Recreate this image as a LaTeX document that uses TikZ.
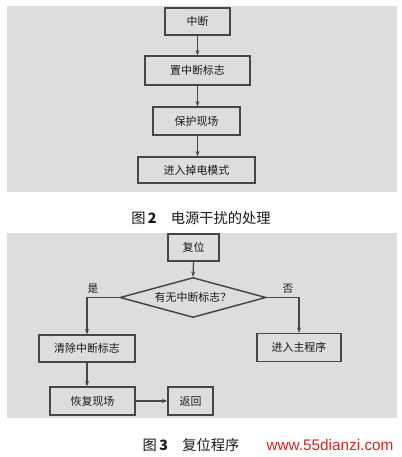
\documentclass[tikz,border=0pt]{standalone}
\usepackage{fontspec}
\newfontfamily\cjk{Noto Sans CJK SC}
\setmainfont{Liberation Serif}
\usetikzlibrary{shapes.geometric,arrows.meta}
\newdimen\px \px=0.75pt
\definecolor{bgc}{RGB}{221,221,219}
\definecolor{edge}{RGB}{70,70,70}
\definecolor{wm}{RGB}{200,40,40}
\tikzset{
  box/.style={draw=edge, line width=1.1pt, fill=bgc, inner sep=0pt,
    font=\cjk\fontsize{8.2}{10}\selectfont, text=black!90},
  dec/.style={box, diamond, aspect=3.6},
  arr/.style={draw=edge, line width=0.9pt, -{Stealth[length=4pt,width=3pt]}},
  figcap/.style={font=\cjk\fontsize{10.7}{12}\selectfont, text=black!90},
  lab/.style={font=\cjk\fontsize{8}{9}\selectfont, text=black!90},
}
\begin{document}
\begin{tikzpicture}[x=0.75pt,y=-0.75pt]
\useasboundingbox (0,0) rectangle (401,457);
\fill[white] (0,0) rectangle (401,457);
% backgrounds
\fill[bgc] (7,6) rectangle (397,192);
\fill[bgc] (7,233) rectangle (397,418);

% Figure 2
\node[box, minimum width=65\px, minimum height=27\px] (n1) at (197.5,21.5) {中断};
\node[box, minimum width=105\px, minimum height=29\px] (n2) at (197.5,70.5) {置中断标志};
\node[box, minimum width=87\px, minimum height=28\px] (n3) at (196.5,121) {保护现场};
\node[box, minimum width=117\px, minimum height=26\px] (n4) at (196.5,170) {进入掉电模式};
\draw[arr] (n1.south) -- (n1.south |- n2.north);
\draw[arr] (n2.south) -- (n2.south |- n3.north);
\draw[arr] (n2.south |- n3.south) -- (n2.south |- n4.north);
\node[figcap] (c2) at (201,218) {图\,\textbf{2}\quad 电源干扰的处理};

% Figure 3
\node[box, minimum width=51\px, minimum height=27\px] (b1) at (193.5,247.5) {复位};
\node[dec, minimum width=146\px, minimum height=40\px] (d) at (193,297.5) {有无中断标志？};
\node[box, minimum width=96\px, minimum height=27\px] (b2) at (87,348.5) {清除中断标志};
\node[box, minimum width=84\px, minimum height=28\px] (b3) at (299,347.5) {进入主程序};
\node[box, minimum width=85\px, minimum height=28\px] (b4) at (92.5,401) {恢复现场};
\node[box, minimum width=45\px, minimum height=28\px] (b5) at (190.5,401) {返回};
\coordinate (lc) at (87,297.5);
\coordinate (rc) at (299,297.5);
\draw[arr] (b1.south) -- (d.north);
\draw[arr] (d.west) -- (lc) -- (b2.north);
\draw[arr] (d.east) -- (rc) -- (b3.north);
\draw[arr] (b2.south) -- (b2.south |- b4.north);
\draw[arr] (b4.east) -- (b5.west);
\node[lab] (yes) at (93,289) {是};
\node[lab] (no) at (288,289) {否};
\node[figcap] (c3) at (191,445) {图\,\textbf{3}\quad 复位程序};
\node[font=\fontspec{Liberation Sans}\fontsize{11.5}{13}\selectfont, text=wm] (w) at (330,445) {www.55dianzi.com};
\end{tikzpicture}
\end{document}
